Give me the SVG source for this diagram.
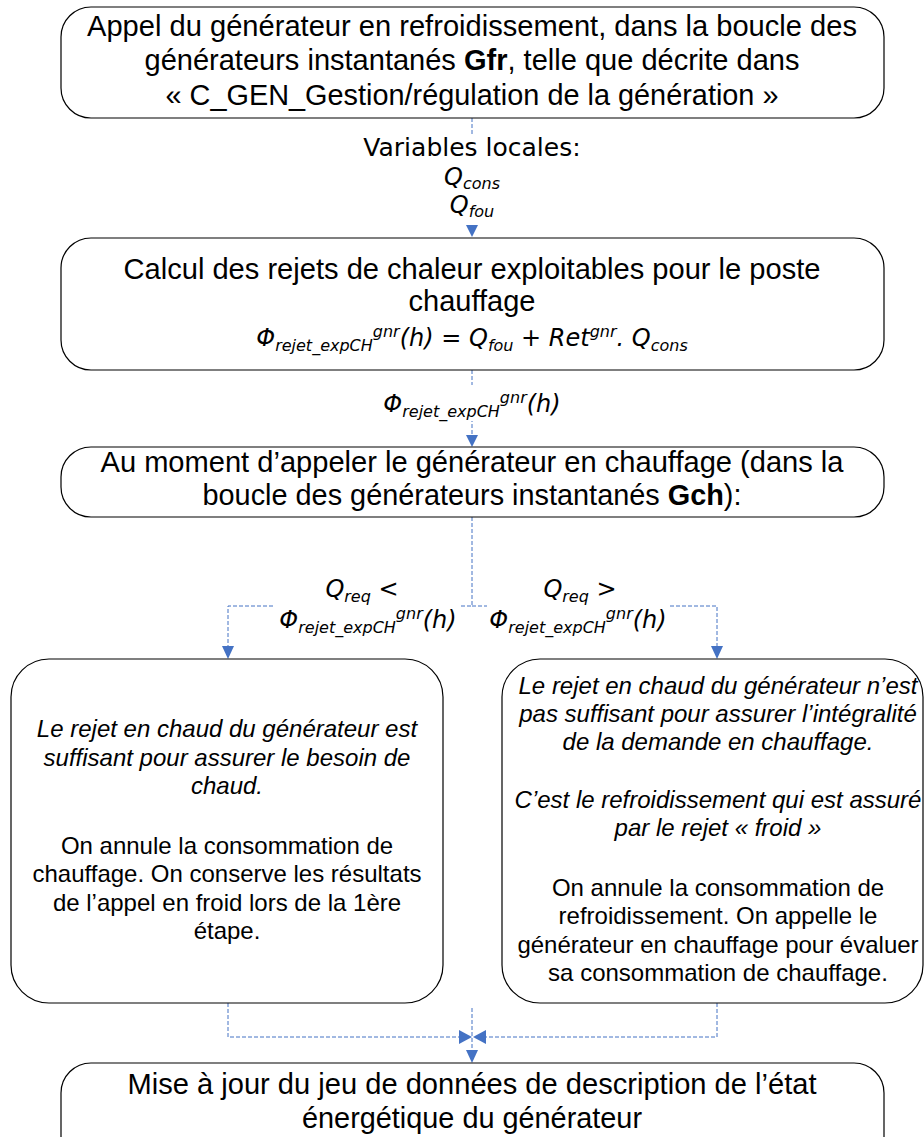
<svg xmlns="http://www.w3.org/2000/svg" width="924" height="1137" viewBox="0 0 924 1137">
<style>
.box{fill:#fff;stroke:#000;stroke-width:1.2}
.t{font-family:"Liberation Sans",Arial,sans-serif;font-size:29px;fill:#000;text-anchor:middle}
.t24{font-size:24px}
.i{font-style:italic}
.b{font-weight:bold}
.m{font-family:"DejaVu Sans",Verdana,sans-serif;font-size:24px;fill:#000;text-anchor:middle}
.mi{font-style:italic}
.s{font-size:16px}
.bg{fill:#fff}
.c{fill:none;stroke:#4472C4;stroke-width:1;stroke-dasharray:4 2}
.ah{fill:#4472C4}
</style>
<g id="connectors">
<line class="c" x1="472" y1="118" x2="472" y2="226"/>
<polygon class="ah" points="466,225 478,225 472,237"/>
<line class="c" x1="472" y1="370" x2="472" y2="436"/>
<polygon class="ah" points="466,435 478,435 472,447"/>
<polyline class="c" points="472,517 472,606 228,606 228,647"/>
<polyline class="c" points="472,606 717,606 717,647"/>
<polygon class="ah" points="222,646 234,646 228,659"/>
<polygon class="ah" points="711,646 723,646 717,659"/>
<polyline class="c" points="228,1003 228,1037 460,1037"/>
<polyline class="c" points="717,1003 717,1037 485,1037"/>
<polygon class="ah" points="459,1030 459,1044 472,1037"/>
<polygon class="ah" points="486,1030 486,1044 473,1037"/>
<line class="c" x1="472" y1="1008" x2="472" y2="1051"/>
<polygon class="ah" points="466,1050 478,1050 472,1063"/>
</g>
<g id="label-variables">
<rect class="bg" x="360" y="134" width="225" height="90"/>
<text class="m" x="472" y="156" style="font-size:25px">Variables locales:</text>
<text class="m mi" x="472" y="185">Q<tspan class="s" dy="4">cons</tspan></text>
<text class="m mi" x="472" y="213">Q<tspan class="s" dy="4">fou</tspan></text>
</g>
<g id="label-phi">
<rect class="bg" x="378" y="385" width="190" height="36"/>
<text class="m mi" x="472" y="412">Φ<tspan class="s" dy="5">rejet_expCH</tspan><tspan class="s" dy="-14">gnr</tspan><tspan dy="9">(h)</tspan></text>
</g>
<g id="label-left">
<rect class="bg" x="275" y="575" width="184" height="60"/>
<text class="m mi" x="362" y="597">Q<tspan class="s" dy="5">req</tspan><tspan dy="-5"> &lt;</tspan></text>
<text class="m mi" x="368" y="628">Φ<tspan class="s" dy="5">rejet_expCH</tspan><tspan class="s" dy="-14">gnr</tspan><tspan dy="9">(h)</tspan></text>
</g>
<g id="label-right">
<rect class="bg" x="487" y="575" width="181" height="60"/>
<text class="m mi" x="580" y="597">Q<tspan class="s" dy="5">req</tspan><tspan dy="-5"> &gt;</tspan></text>
<text class="m mi" x="578" y="628">Φ<tspan class="s" dy="5">rejet_expCH</tspan><tspan class="s" dy="-14">gnr</tspan><tspan dy="9">(h)</tspan></text>
</g>
<g id="node-appel">
<rect class="box" x="61" y="7" width="823" height="111" rx="30"/>
<text class="t" x="472" y="36" textLength="770" lengthAdjust="spacingAndGlyphs">Appel du générateur en refroidissement, dans la boucle des</text>
<text class="t" x="472" y="70" textLength="655" lengthAdjust="spacingAndGlyphs">générateurs instantanés <tspan class="b">Gfr</tspan>, telle que décrite dans</text>
<text class="t" x="472" y="105" textLength="613" lengthAdjust="spacingAndGlyphs">« C_GEN_Gestion/régulation de la génération »</text>
</g>
<g id="node-calcul">
<rect class="box" x="61" y="238" width="823" height="132" rx="30"/>
<text class="t" x="472" y="279" textLength="697" lengthAdjust="spacingAndGlyphs">Calcul des rejets de chaleur exploitables pour le poste</text>
<text class="t" x="472" y="311">chauffage</text>
<text class="m mi" x="472" y="346">Φ<tspan class="s" dy="5">rejet_expCH</tspan><tspan class="s" dy="-14">gnr</tspan><tspan dy="9">(h) = Q</tspan><tspan class="s" dy="5">fou</tspan><tspan dy="-5"> + Ret</tspan><tspan class="s" dy="-9">gnr</tspan><tspan dy="9">. Q</tspan><tspan class="s" dy="5">cons</tspan></text>
</g>
<g id="node-moment">
<rect class="box" x="61" y="447" width="823" height="70" rx="30"/>
<text class="t" x="472" y="472" textLength="743" lengthAdjust="spacingAndGlyphs">Au moment d’appeler le générateur en chauffage (dans la</text>
<text class="t" x="472" y="505" textLength="539" lengthAdjust="spacingAndGlyphs">boucle des générateurs instantanés <tspan class="b">Gch</tspan>):</text>
</g>
<g id="node-suffisant">
<rect class="box" x="11" y="659" width="432" height="344" rx="38"/>
<text class="t t24 i" x="227" y="737">Le rejet en chaud du générateur est</text>
<text class="t t24 i" x="227" y="766">suffisant pour assurer le besoin de</text>
<text class="t t24 i" x="227" y="794">chaud.</text>
<text class="t t24" x="227" y="854">On annule la consommation de</text>
<text class="t t24" x="227" y="882">chauffage. On conserve les résultats</text>
<text class="t t24" x="227" y="911">de l’appel en froid lors de la 1ère</text>
<text class="t t24" x="227" y="939">étape.</text>
</g>
<g id="node-insuffisant">
<rect class="box" x="502" y="659" width="421" height="344" rx="38"/>
<text class="t t24 i" x="718" y="694">Le rejet en chaud du générateur n’est</text>
<text class="t t24 i" x="718" y="722">pas suffisant pour assurer l’intégralité</text>
<text class="t t24 i" x="718" y="750">de la demande en chauffage.</text>
<text class="t t24 i" x="718" y="808">C’est le refroidissement qui est assuré</text>
<text class="t t24 i" x="718" y="836">par le rejet « froid »</text>
<text class="t t24" x="718" y="896">On annule la consommation de</text>
<text class="t t24" x="718" y="924">refroidissement. On appelle le</text>
<text class="t t24" x="718" y="953">générateur en chauffage pour évaluer</text>
<text class="t t24" x="718" y="981">sa consommation de chauffage.</text>
</g>
<g id="node-miseajour">
<rect class="box" x="61" y="1063" width="823" height="110" rx="30"/>
<text class="t" x="472" y="1094" textLength="689" lengthAdjust="spacingAndGlyphs">Mise à jour du jeu de données de description de l’état</text>
<text class="t" x="472" y="1128" textLength="340" lengthAdjust="spacingAndGlyphs">énergétique du générateur</text>
</g>
</svg>
